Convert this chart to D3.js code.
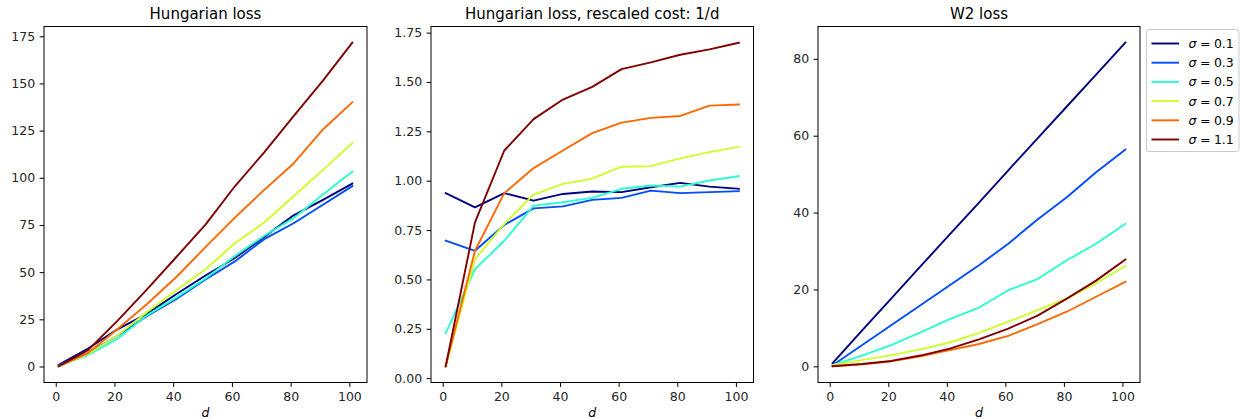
<!DOCTYPE html>
<html>
<head>
<meta charset="utf-8">
<script src="https://cdn.jsdelivr.net/npm/d3@7"></script>
<style>
  html, body { margin: 0; padding: 0; background: #fff; }
  svg { display: block; font-family: "DejaVu Sans", sans-serif; }
</style>
</head>
<body>
<svg id="chart" width="1242" height="419"></svg>
<script>
// ---- data ----
const dims = [1, 11, 21, 31, 41, 51, 61, 71, 81, 91, 101];
const sigmas = ["0.1", "0.3", "0.5", "0.7", "0.9", "1.1"];
const colors = ["#00007f", "#004cff", "#29ffce", "#ceff29", "#ff6800", "#7f0000"];

const titles = ["Hungarian loss", "Hungarian loss, rescaled cost: 1/d", "W2 loss"];

// Hungarian loss
const hung_s01 = [0.9, 9.5, 19.7, 27.9, 38.3, 48.2, 57.5, 68.7, 80.1, 88.3, 96.9];
const hung_s03 = [0.7, 7.1, 16.3, 26.7, 35.7, 46.1, 55.7, 67.5, 75.9, 85.7, 95.6];
const hung_s05 = [0.2, 6.1, 14.6, 27.1, 36.5, 46.6, 58.5, 69.3, 78.6, 91.1, 103.3];
const hung_s07 = [0.1, 6.6, 16.4, 28.8, 40.3, 51.5, 65.3, 76.3, 90.2, 104.2, 118.4];
const hung_s09 = [0.1, 7.1, 19.7, 33.0, 47.3, 63.3, 78.9, 93.6, 107.6, 125.6, 140.0];
const hung_s11 = [0.1, 8.7, 24.2, 40.7, 57.9, 75.2, 95.5, 113.5, 132.7, 151.5, 171.6];

// Hungarian loss, rescaled cost 1/d
const resc_s01 = [0.937, 0.865, 0.937, 0.899, 0.933, 0.945, 0.942, 0.967, 0.989, 0.970, 0.959];
const resc_s03 = [0.696, 0.645, 0.776, 0.860, 0.870, 0.903, 0.913, 0.950, 0.937, 0.942, 0.947];
const resc_s05 = [0.227, 0.552, 0.696, 0.874, 0.891, 0.913, 0.959, 0.976, 0.970, 1.001, 1.023];
const resc_s07 = [0.060, 0.603, 0.781, 0.930, 0.984, 1.010, 1.071, 1.074, 1.113, 1.145, 1.172];
const resc_s09 = [0.060, 0.645, 0.937, 1.064, 1.153, 1.241, 1.294, 1.318, 1.328, 1.380, 1.386];
const resc_s11 = [0.060, 0.789, 1.153, 1.312, 1.411, 1.475, 1.565, 1.599, 1.638, 1.665, 1.699];

// W2 loss
const w2_s01 = [0.8, 9.3, 17.6, 26.0, 34.3, 42.6, 51.0, 59.3, 67.6, 75.9, 84.2];
const w2_s03 = [0.3, 5.5, 10.7, 15.9, 21.1, 26.3, 31.9, 38.2, 44.0, 50.5, 56.4];
const w2_s05 = [0.3, 2.8, 5.5, 8.8, 12.3, 15.3, 19.8, 22.7, 27.6, 31.9, 37.1];
const w2_s07 = [0.3, 1.6, 2.9, 4.4, 6.2, 8.7, 11.6, 14.6, 17.7, 21.6, 26.1];
const w2_s09 = [0.0, 0.5, 1.3, 2.6, 4.2, 5.8, 7.9, 11.0, 14.2, 18.1, 22.0];
const w2_s11 = [0.0, 0.6, 1.4, 2.8, 4.6, 7.0, 9.8, 13.2, 17.6, 22.3, 27.8];

const xTicks = [0, 20, 40, 60, 80, 100];
const yTicks1 = [0, 25, 50, 75, 100, 125, 150, 175];
const yTicks2 = [0, 0.25, 0.5, 0.75, 1.0, 1.25, 1.5, 1.75];
const yTicks3 = [0, 20, 40, 60, 80];

// ---- layout ----
const panels = [
  { left: 44, right: 367, series: [hung_s01, hung_s03, hung_s05, hung_s07, hung_s09, hung_s11], ticks: yTicks1, fmt: d3.format("d") },
  { left: 431, right: 753.5, series: [resc_s01, resc_s03, resc_s05, resc_s07, resc_s09, resc_s11], ticks: yTicks2, fmt: d3.format(".2f") },
  { left: 818, right: 1140, series: [w2_s01, w2_s03, w2_s05, w2_s07, w2_s09, w2_s11], ticks: yTicks3, fmt: d3.format("d") }
];
const plotTop = 26.5, plotBottom = 382.5;
const tickFont = 12.5;
const svg = d3.select("#chart");

function padExtent(vals) {
  const lo = d3.min(vals), hi = d3.max(vals);
  const p = (hi - lo) * 0.05;
  return [lo - p, hi + p];
}

panels.forEach((p, i) => {
  const x = d3.scaleLinear().domain(padExtent(dims)).range([p.left, p.right]);
  const y = d3.scaleLinear().domain(padExtent(p.series.flat())).range([plotBottom, plotTop]);
  const g = svg.append("g");

  // lines
  const line = d3.line().x((d, k) => x(dims[k])).y(d => y(d));
  p.series.forEach((s, k) => {
    g.append("path").datum(s).attr("d", line)
      .attr("fill", "none").attr("stroke", colors[k])
      .attr("stroke-width", 1.9).attr("stroke-linejoin", "round").attr("stroke-linecap", "square");
  });

  // axes
  const xa = d3.axisBottom(x).tickValues(xTicks).tickSize(4.4).tickPadding(4.4).tickFormat(d3.format("d"));
  const ya = d3.axisLeft(y).tickValues(p.ticks).tickSize(4.4).tickPadding(4.4).tickFormat(p.fmt);
  const gx = g.append("g").attr("transform", `translate(0,${plotBottom})`).call(xa);
  const gy = g.append("g").attr("transform", `translate(${p.left},0)`).call(ya);
  [gx, gy].forEach(a => {
    a.select(".domain").remove();
    a.selectAll(".tick line").attr("stroke", "#000").attr("stroke-width", 1);
    a.selectAll(".tick text").attr("fill", "#262626").style("font-size", tickFont + "px")
      .style("font-family", "DejaVu Sans");
  });
  gx.selectAll(".tick text").attr("dy", "0.8em");

  // frame
  g.append("rect").attr("x", p.left).attr("y", plotTop)
    .attr("width", p.right - p.left).attr("height", plotBottom - plotTop)
    .attr("fill", "none").attr("stroke", "#000").attr("stroke-width", 1);

  // title
  g.append("text").attr("x", (p.left + p.right) / 2).attr("y", 19)
    .attr("text-anchor", "middle").style("font-size", "15px").attr("fill", "#000")
    .text(titles[i]);

  // x label
  g.append("text").attr("x", (p.left + p.right) / 2).attr("y", 417)
    .attr("text-anchor", "middle").style("font-size", "12.5px").style("font-style", "italic")
    .attr("fill", "#000").text("d");
});

// legend
const lg = svg.append("g");
lg.append("rect").attr("x", 1146.5).attr("y", 29.5).attr("width", 92.5).attr("height", 122)
  .attr("rx", 2.5).attr("fill", "#fff").attr("fill-opacity", 0.8)
  .attr("stroke", "#cccccc").attr("stroke-width", 1);
sigmas.forEach((s, k) => {
  const yy = 43.5 + k * 19.2;
  lg.append("line").attr("x1", 1151.5).attr("x2", 1179).attr("y1", yy).attr("y2", yy)
    .attr("stroke", colors[k]).attr("stroke-width", 1.9);
  const t = lg.append("text").attr("x", 1188.5).attr("y", yy + 4.5).style("font-size", "12.5px").attr("fill", "#000");
  t.append("tspan").style("font-style", "italic").text("σ");
  t.append("tspan").attr("dx", 3.5).text("=");
  t.append("tspan").attr("dx", 3.5).text(s);
});
</script>
</body>
</html>
